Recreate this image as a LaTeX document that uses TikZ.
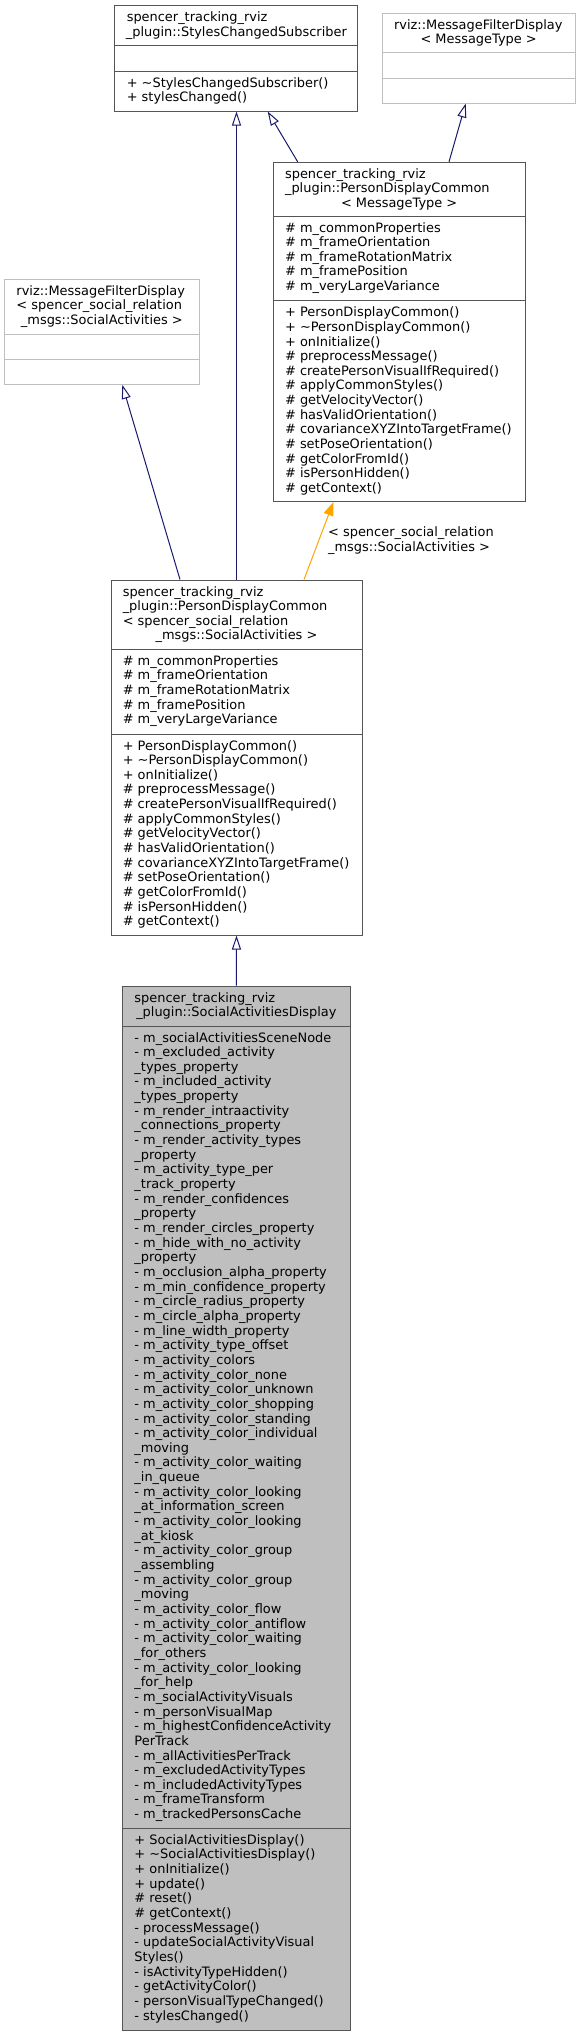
\documentclass[tikz,border=0pt]{standalone}
\usepackage{fontspec}
\setmainfont{DejaVu Sans}
\usetikzlibrary{arrows.meta,calc}
\definecolor{boxgray}{HTML}{555555}
\definecolor{lightgray}{HTML}{BFBFBF}
\definecolor{focusfill}{HTML}{BFBFBF}
\definecolor{inhblue}{HTML}{191970}
\definecolor{tmplorange}{HTML}{FFA500}
\newcommand\dfont{\fontsize{9.7pt}{10.99pt}\selectfont}
\newcommand\cmplines[1]{\begin{tabular}[t]{@{}l@{}}#1\end{tabular}}
\newcommand\pdcattrs{\# m\_commonProperties\\\# m\_frameOrientation\\\# m\_frameRotationMatrix\\\# m\_framePosition\\\# m\_veryLargeVariance}
\newcommand\pdcmethods{+ PersonDisplayCommon()\\+ \textasciitilde PersonDisplayCommon()\\+ onInitialize()\\\# preprocessMessage()\\\# createPersonVisualIfRequired()\\\# applyCommonStyles()\\\# getVelocityVector()\\\# hasValidOrientation()\\\# covarianceXYZIntoTargetFrame()\\\# setPoseOrientation()\\\# getColorFromId()\\\# isPersonHidden()\\\# getContext()}
\tikzset{
  box/.style={draw=boxgray, fill=white, line width=0.75pt, inner sep=0pt, rectangle},
  ubox/.style={draw=lightgray, fill=white, line width=0.75pt, inner sep=0pt, rectangle},
  fbox/.style={draw=boxgray, fill=focusfill, line width=0.75pt, inner sep=0pt, rectangle},
  sepline/.style={line width=0.75pt},
  txt/.style={anchor=base west, inner sep=0pt, font=\dfont, text=black},
  ctxt/.style={anchor=base, inner sep=0pt, font=\dfont, text=black},
  inh/.style={draw=inhblue, line width=0.75pt, -{Triangle[open, length=10.5pt, width=6.75pt]}},
  tmpl/.style={draw=tmplorange, line width=0.75pt, -{Triangle[length=10pt, width=7.5pt, fill=tmplorange]}},
  lbl/.style={anchor=west, inner sep=0pt, align=left, font=\dfont, text=black}
}
\begin{document}
\begin{tikzpicture}[x=0.75pt, y=-0.75pt]
\path[use as bounding box, fill=white] (0,0) rectangle (581,2036);

% ---------- A: StylesChangedSubscriber
\node[box, minimum width=182.03pt, minimum height=78.98pt] (A) at (236.35,58.35) {};
\draw[sepline, boxgray] (A.west |- 0,45.7) -- (A.east |- 0,45.7);
\draw[sepline, boxgray] (A.west |- 0,71) -- (A.east |- 0,71);
\node[txt] (At1) at (126.5,21.7) {spencer\_tracking\_rviz};
\node[ctxt] (At2) at (236.35,36.35) {\_plugin::StylesChangedSubscriber};
\node[txt] (Am) at (126.5,87) {\cmplines{+ \textasciitilde StylesChangedSubscriber()\\+ stylesChanged()}};

% ---------- B: rviz::MessageFilterDisplay< MessageType >
\node[ubox, minimum width=144.53pt, minimum height=67.28pt] (B) at (478.65,58.15) {};
\draw[sepline, lightgray] (B.west |- 0,52.7) -- (B.east |- 0,52.7);
\draw[sepline, lightgray] (B.west |- 0,78.3) -- (B.east |- 0,78.3);
\node[txt] (Bt1) at (393.8,29.3) {rviz::MessageFilterDisplay};
\node[ctxt] (Bt2) at (478.65,43.95) {< MessageType >};

% ---------- C: PersonDisplayCommon< MessageType >
\node[box, minimum width=188.78pt, minimum height=254.55pt] (C) at (399.15,332) {};
\draw[sepline, boxgray] (C.west |- 0,216) -- (C.east |- 0,216);
\draw[sepline, boxgray] (C.west |- 0,300.7) -- (C.east |- 0,300.7);
\node[txt] (Ct1) at (284.8,178.3) {\cmplines{spencer\_tracking\_rviz\\\_plugin::PersonDisplayCommon}};
\node[ctxt] (Ct2) at (399.15,207.6) {< MessageType >};
\node[txt] (Ca) at (284.8,232) {\cmplines{\pdcattrs}};
\node[txt] (Cm) at (284.8,316.7) {\cmplines{\pdcmethods}};

% ---------- D: rviz::MessageFilterDisplay< SocialActivities >
\node[ubox, minimum width=145.73pt, minimum height=78.98pt] (D) at (101.85,331.65) {};
\draw[sepline, lightgray] (D.west |- 0,334) -- (D.east |- 0,334);
\draw[sepline, lightgray] (D.west |- 0,359.3) -- (D.east |- 0,359.3);
\node[txt] (Dt1) at (16.2,295) {\cmplines{rviz::MessageFilterDisplay\\< spencer\_social\_relation}};
\node[ctxt] (Dt2) at (101.85,324.3) {\_msgs::SocialActivities >};

% ---------- E: PersonDisplayCommon< SocialActivities >
\node[box, minimum width=188.25pt, minimum height=266.25pt] (E) at (236.5,757.5) {};
\draw[sepline, boxgray] (E.west |- 0,649.3) -- (E.east |- 0,649.3);
\draw[sepline, boxgray] (E.west |- 0,734) -- (E.east |- 0,734);
\node[txt] (Et1) at (122.5,596) {\cmplines{spencer\_tracking\_rviz\\\_plugin::PersonDisplayCommon\\< spencer\_social\_relation}};
\node[ctxt] (Et2) at (236.5,639.95) {\_msgs::SocialActivities >};
\node[txt] (Ea) at (122.5,665.3) {\cmplines{\pdcattrs}};
\node[txt] (Em) at (122.5,750) {\cmplines{\pdcmethods}};

% ---------- F: SocialActivitiesDisplay
\node[fbox, minimum width=170.48pt, minimum height=783pt] (F) at (236.35,1508) {};
\draw[sepline, boxgray] (F.west |- 0,1026) -- (F.east |- 0,1026);
\draw[sepline, boxgray] (F.west |- 0,1828.3) -- (F.east |- 0,1828.3);
\node[txt] (Ft1) at (134.2,1002) {spencer\_tracking\_rviz};
\node[ctxt] (Ft2) at (236.35,1016.65) {\_plugin::SocialActivitiesDisplay};
\node[txt] (Fa) at (134.2,1042) {\cmplines{- m\_socialActivitiesSceneNode\\- m\_excluded\_activity\\\_types\_property\\- m\_included\_activity\\\_types\_property\\- m\_render\_intraactivity\\\_connections\_property\\- m\_render\_activity\_types\\\_property\\- m\_activity\_type\_per\\\_track\_property\\- m\_render\_confidences\\\_property\\- m\_render\_circles\_property\\- m\_hide\_with\_no\_activity\\\_property\\- m\_occlusion\_alpha\_property\\- m\_min\_confidence\_property\\- m\_circle\_radius\_property\\- m\_circle\_alpha\_property\\- m\_line\_width\_property\\- m\_activity\_type\_offset\\- m\_activity\_colors\\- m\_activity\_color\_none\\- m\_activity\_color\_unknown\\- m\_activity\_color\_shopping\\- m\_activity\_color\_standing\\- m\_activity\_color\_individual\\\_moving\\- m\_activity\_color\_waiting\\\_in\_queue\\- m\_activity\_color\_looking\\\_at\_information\_screen\\- m\_activity\_color\_looking\\\_at\_kiosk\\- m\_activity\_color\_group\\\_assembling\\- m\_activity\_color\_group\\\_moving\\- m\_activity\_color\_flow\\- m\_activity\_color\_antiflow\\- m\_activity\_color\_waiting\\\_for\_others\\- m\_activity\_color\_looking\\\_for\_help\\- m\_socialActivityVisuals\\- m\_personVisualMap\\- m\_highestConfidenceActivity\\PerTrack\\- m\_allActivitiesPerTrack\\- m\_excludedActivityTypes\\- m\_includedActivityTypes\\- m\_frameTransform\\- m\_trackedPersonsCache}};
\node[txt] (Fm) at (134.2,1844.3) {\cmplines{+ SocialActivitiesDisplay()\\+ \textasciitilde SocialActivitiesDisplay()\\+ onInitialize()\\+ update()\\\# reset()\\\# getContext()\\- processMessage()\\- updateSocialActivityVisual\\Styles()\\- isActivityTypeHidden()\\- getActivityColor()\\- personVisualTypeChanged()\\- stylesChanged()}};

% ---------- connectors
\draw[inh] (E.north) -- (E.north |- A.south);
\draw[inh] ($(C.north)+(-101.45,0)$) -- ($(A.south)+(31.35,0)$);
\draw[inh] ($(C.north)+(49.85,0)$) -- ($(B.south)+(-12.95,0)$);
\draw[inh] ($(E.north)+(-56.5,0)$) -- ($(D.south)+(20.45,0)$);
\draw[tmpl] ($(E.north)+(67.5,0)$) -- node[lbl, pos=0.5, xshift=6.75pt] (L) {< spencer\_social\_relation\\\_msgs::SocialActivities >} ($(C.south)+(-65.85,0)$);
\draw[inh] (F.north) -- (E.south);
\end{tikzpicture}
\end{document}
